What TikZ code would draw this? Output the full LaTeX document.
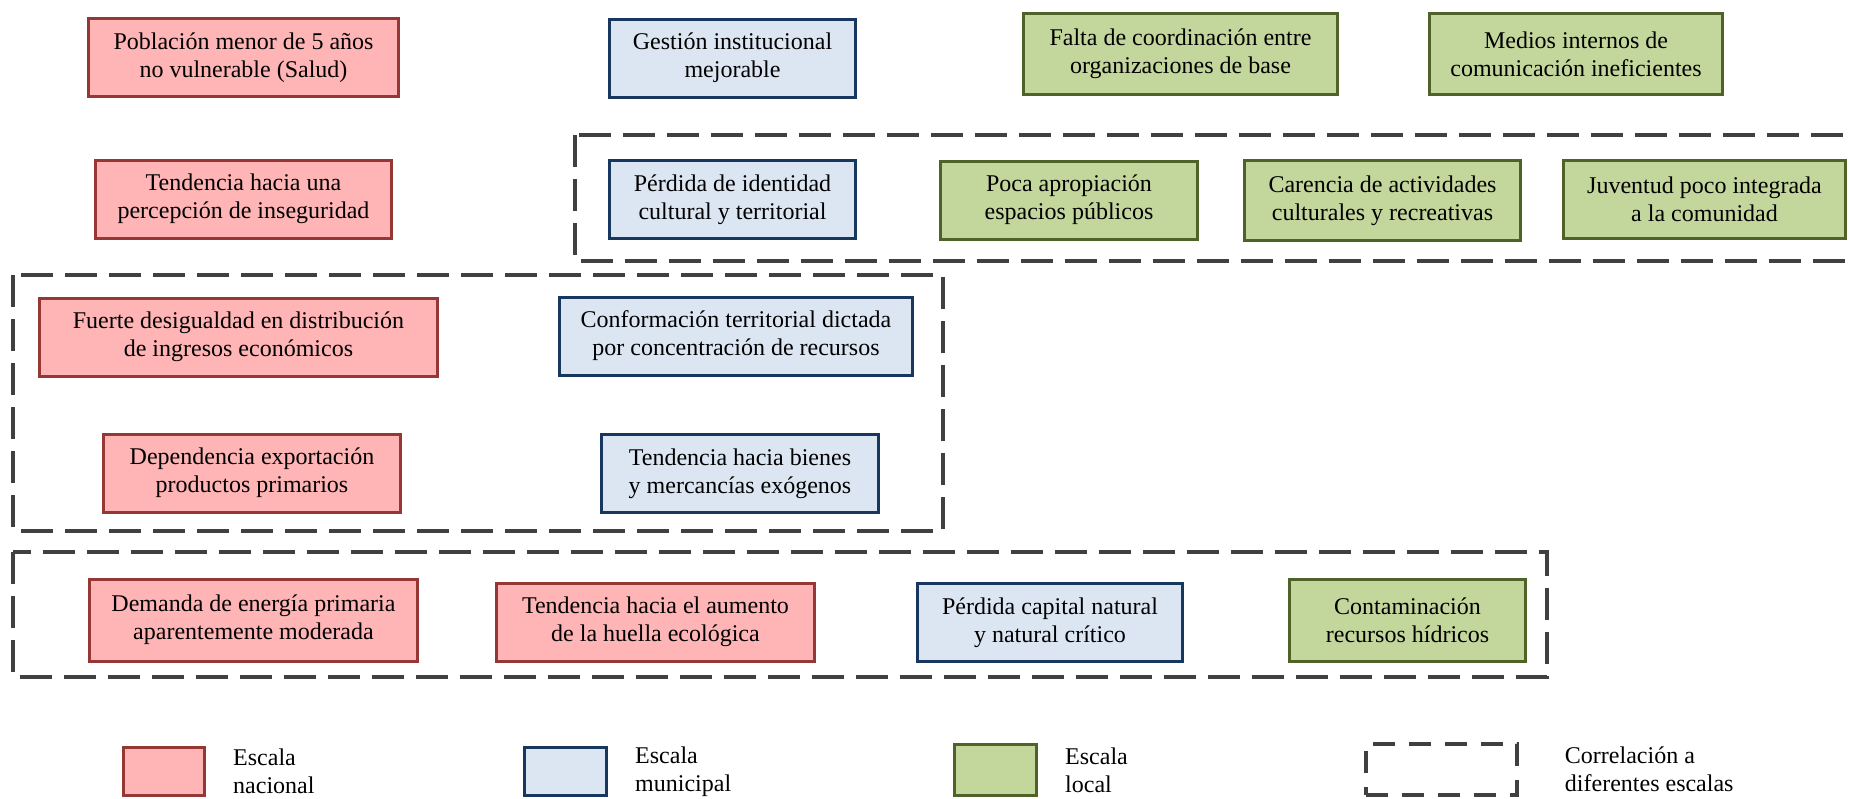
\documentclass[tikz,border=0pt]{standalone}
\usepackage{fontspec}
\setmainfont{LiberationSerif}[Extension=.ttf, UprightFont=*-Regular, BoldFont=*-Bold, ItalicFont=*-Italic]
\definecolor{natfill}{RGB}{255,180,181}
\definecolor{natline}{RGB}{149,55,53}
\definecolor{munfill}{RGB}{220,230,242}
\definecolor{munline}{RGB}{23,55,94}
\definecolor{locfill}{RGB}{195,214,155}
\definecolor{locline}{RGB}{79,98,40}
\definecolor{dashgray}{RGB}{64,64,64}
\usepackage{tikz}
\usetikzlibrary{positioning}

\begin{document}
\begin{tikzpicture}[
					x=1pt, y=-1pt,
					font=\rmfamily\fontsize{24}{28}\selectfont,
					node distance=27pt,
					box/.style={draw, line width=3pt, align=center, inner sep=0pt, minimum height=78pt},
					nac/.style={box, draw=natline, fill=natfill},
					mun/.style={box, draw=munline, fill=munfill},
					loc/.style={box, draw=locline, fill=locfill},
					grupo/.style={draw=dashgray, line width=4pt, dash pattern=on 32pt off 12pt},
					ley/.style={align=left, inner sep=0pt}
					]
					\useasboundingbox (0,0) rectangle (1850,798);
					
					% correlaciones entre escalas
					\draw[grupo] (575,135) rectangle (1875,261);
					\draw[grupo] (13,275) rectangle (943,531);
					\draw[grupo] (13,552) rectangle (1547,677);
					
					\node[nac, minimum width=310pt] (pob)      at (243.5,57.5) {Población menor de 5 años\\no vulnerable (Salud)};
					\node[mun, minimum width=246pt] (gest)     at (732.5,58)   {Gestión institucional\\mejorable};
					\node[loc, minimum width=314pt, minimum height=81pt] (falta) at (1180.5,54) {Falta de coordinación entre\\organizaciones de base};
					\node[loc, minimum width=293pt, minimum height=81pt] (medios) at (1576,54) {Medios internos de\\comunicación ineficientes};
					
					\node[nac, minimum width=296pt] (percep)   at (243.5,199)  {Tendencia hacia una\\percepción de inseguridad};
					\node[mun, minimum width=246pt] (ident)    at (732.5,199.5) {Pérdida de identidad\\cultural y territorial};
					\node[loc, minimum width=257pt] (poca)     at (1069,200)   {Poca apropiación\\espacios públicos};
					\node[loc, minimum width=276pt, minimum height=80pt] (carencia) at (1382.5,200.5) {Carencia de actividades\\culturales y recreativas};
					\node[loc, minimum width=282pt] (juventud) at (1704.5,199)  {Juventud poco integrada\\a la comunidad};
					
					\node[nac, minimum width=398pt] (fuerte)   at (238.5,337)  {Fuerte desigualdad en distribución\\de ingresos económicos};
					\node[mun, minimum width=353pt] (conform)  at (736,336)    {Conformación territorial dictada\\por concentración de recursos};
					\node[nac, minimum width=297pt] (depend)   at (252,473)    {Dependencia exportación\\productos primarios};
					\node[mun, minimum width=277pt] (bienes)   at (740,473.5)  {Tendencia hacia bienes\\y mercancías exógenos};
					
					\node[nac, minimum width=328pt, minimum height=82pt] (demanda) at (253.5,620) {Demanda de energía primaria\\aparentemente moderada};
					\node[nac, minimum width=318pt] (huella)   at (655.5,622)  {Tendencia hacia el aumento\\de la huella ecológica};
					\node[mun, minimum width=265pt] (capital)  at (1050,622.5) {Pérdida capital natural\\y natural crítico};
					\node[loc, minimum width=236pt, minimum height=82pt] (contam) at (1407.5,620.5) {Contaminación\\recursos hídricos};
					
					% leyenda
					\node[nac, minimum width=81pt, minimum height=48pt] (leyNac) at (164,771.5) {};
					\node[ley] (txtNac) [right=of leyNac] {Escala\\nacional};
					\node[mun, minimum width=82pt, minimum height=48pt] (leyMun) at (565.5,771.5) {};
					\node[ley] (txtMun) [right=of leyMun] {Escala\\municipal};
					\node[loc, minimum width=82pt, minimum height=51pt] (leyLoc) at (995.5,770) {};
					\node[ley] (txtLoc) [right=of leyLoc] {Escala\\local};
					\node[draw=dashgray, line width=3.5pt, dash pattern=on 22pt off 14pt, minimum width=151pt, minimum height=51pt] (leyCor) at (1441.5,769.5) {};
					\node[ley] (txtCor) [right=46pt of leyCor] {Correlación a\\diferentes escalas};
				\end{tikzpicture}
\end{document}
